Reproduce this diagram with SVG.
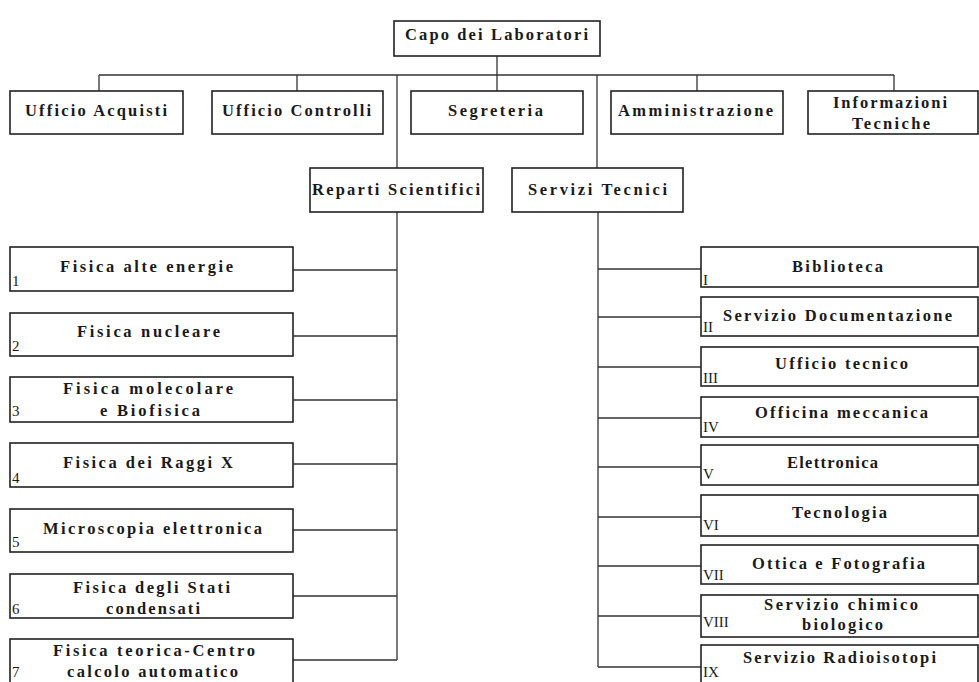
<svg xmlns="http://www.w3.org/2000/svg" width="979" height="682" viewBox="0 0 979 682">
<style>
rect{fill:#fff;stroke:#222;stroke-width:1.6}
#connectors path{fill:none;stroke:#333;stroke-width:1.3}
text{font-family:"Liberation Serif","Times New Roman",serif;font-size:16.5px;font-weight:bold;fill:#1a1a1a}
.n{font-size:15px;font-weight:normal}
</style>
<rect x="0" y="0" width="979" height="682" style="fill:#fff;stroke:none"/>
<g id="connectors">
<path d="M497,56V75M99,75H894M99,75V91M297,75V91M497,75V91M697,75V91M894,75V91M397,75V168M597,75V168"/>
<path d="M397,212V660M293,270H397M293,336H397M293,400H397M293,464H397M293,530H397M293,596H397M293,660H397"/>
<path d="M598,212V667M598,269H701M598,317H701M598,367H701M598,418H701M598,467H701M598,517H701M598,566H701M598,616H701M598,667H701"/>
</g>
<g id="capo"><rect x="394" y="21" width="206" height="35"/><text x="405" y="40" textLength="183" lengthAdjust="spacing">Capo dei Laboratori</text></g>
<g id="acquisti"><rect x="10" y="91" width="173" height="43"/><text x="25" y="116" textLength="142" lengthAdjust="spacing">Ufficio Acquisti</text></g>
<g id="controlli"><rect x="212" y="91" width="171" height="43"/><text x="222" y="116" textLength="149" lengthAdjust="spacing">Ufficio Controlli</text></g>
<g id="segreteria"><rect x="411" y="91" width="172" height="43"/><text x="448" y="116" textLength="95" lengthAdjust="spacing">Segreteria</text></g>
<g id="amministrazione"><rect x="611" y="91" width="172" height="43"/><text x="618" y="116" textLength="155" lengthAdjust="spacing">Amministrazione</text></g>
<g id="informazioni"><rect x="808" y="91" width="170" height="43"/><text x="833" y="108" textLength="114" lengthAdjust="spacing">Informazioni</text><text x="852" y="129" textLength="78" lengthAdjust="spacing">Tecniche</text></g>
<g id="reparti"><rect x="310" y="168" width="173" height="44"/><text x="312" y="195" textLength="168" lengthAdjust="spacing">Reparti Scientifici</text></g>
<g id="servizi"><rect x="512" y="168" width="171" height="44"/><text x="528" y="195" textLength="139" lengthAdjust="spacing">Servizi Tecnici</text></g>
<g id="r1"><rect x="10" y="247" width="283" height="44"/><text x="60" y="272" textLength="173" lengthAdjust="spacing">Fisica alte energie</text><text class="n" x="12" y="286">1</text></g>
<g id="r2"><rect x="10" y="313" width="283" height="43"/><text x="77" y="337" textLength="143" lengthAdjust="spacing">Fisica nucleare</text><text class="n" x="12" y="351">2</text></g>
<g id="r3"><rect x="10" y="377" width="283" height="45"/><text x="63" y="394" textLength="170" lengthAdjust="spacing">Fisica molecolare</text><text x="100" y="416" textLength="100" lengthAdjust="spacing">e Biofisica</text><text class="n" x="12" y="416">3</text></g>
<g id="r4"><rect x="10" y="443" width="283" height="44"/><text x="63" y="468" textLength="170" lengthAdjust="spacing">Fisica dei Raggi X</text><text class="n" x="12" y="483">4</text></g>
<g id="r5"><rect x="10" y="509" width="283" height="43"/><text x="43" y="534" textLength="219" lengthAdjust="spacing">Microscopia elettronica</text><text class="n" x="12" y="547">5</text></g>
<g id="r6"><rect x="10" y="574" width="283" height="44"/><text x="73" y="593" textLength="157" lengthAdjust="spacing">Fisica degli Stati</text><text x="106" y="614" textLength="94" lengthAdjust="spacing">condensati</text><text class="n" x="12" y="614">6</text></g>
<g id="r7"><rect x="10" y="639" width="283" height="60"/><text x="53" y="656" textLength="202" lengthAdjust="spacing">Fisica teorica-Centro</text><text x="67" y="677" textLength="171" lengthAdjust="spacing">calcolo automatico</text><text class="n" x="12" y="677">7</text></g>
<g id="s1"><rect x="701" y="247" width="277" height="40"/><text x="792" y="272" textLength="91" lengthAdjust="spacing">Biblioteca</text><text class="n" x="703" y="285">I</text></g>
<g id="s2"><rect x="701" y="297" width="277" height="39"/><text x="723" y="321" textLength="229" lengthAdjust="spacing">Servizio Documentazione</text><text class="n" x="703" y="332">II</text></g>
<g id="s3"><rect x="701" y="347" width="277" height="39"/><text x="775" y="369" textLength="133" lengthAdjust="spacing">Ufficio tecnico</text><text class="n" x="703" y="383">III</text></g>
<g id="s4"><rect x="701" y="397" width="277" height="40"/><text x="755" y="418" textLength="173" lengthAdjust="spacing">Officina meccanica</text><text class="n" x="703" y="432">IV</text></g>
<g id="s5"><rect x="701" y="445" width="277" height="40"/><text x="787" y="468" textLength="91" lengthAdjust="spacing">Elettronica</text><text class="n" x="703" y="479">V</text></g>
<g id="s6"><rect x="701" y="495" width="277" height="41"/><text x="792" y="518" textLength="95" lengthAdjust="spacing">Tecnologia</text><text class="n" x="703" y="530">VI</text></g>
<g id="s7"><rect x="701" y="545" width="277" height="39"/><text x="752" y="569" textLength="173" lengthAdjust="spacing">Ottica e Fotografia</text><text class="n" x="703" y="580">VII</text></g>
<g id="s8"><rect x="701" y="595" width="277" height="42"/><text x="764" y="610" textLength="154" lengthAdjust="spacing">Servizio chimico</text><text x="802" y="630" textLength="81" lengthAdjust="spacing">biologico</text><text class="n" x="703" y="627">VIII</text></g>
<g id="s9"><rect x="701" y="645" width="277" height="55"/><text x="743" y="663" textLength="193" lengthAdjust="spacing">Servizio Radioisotopi</text><text class="n" x="703" y="677">IX</text></g>
</svg>
